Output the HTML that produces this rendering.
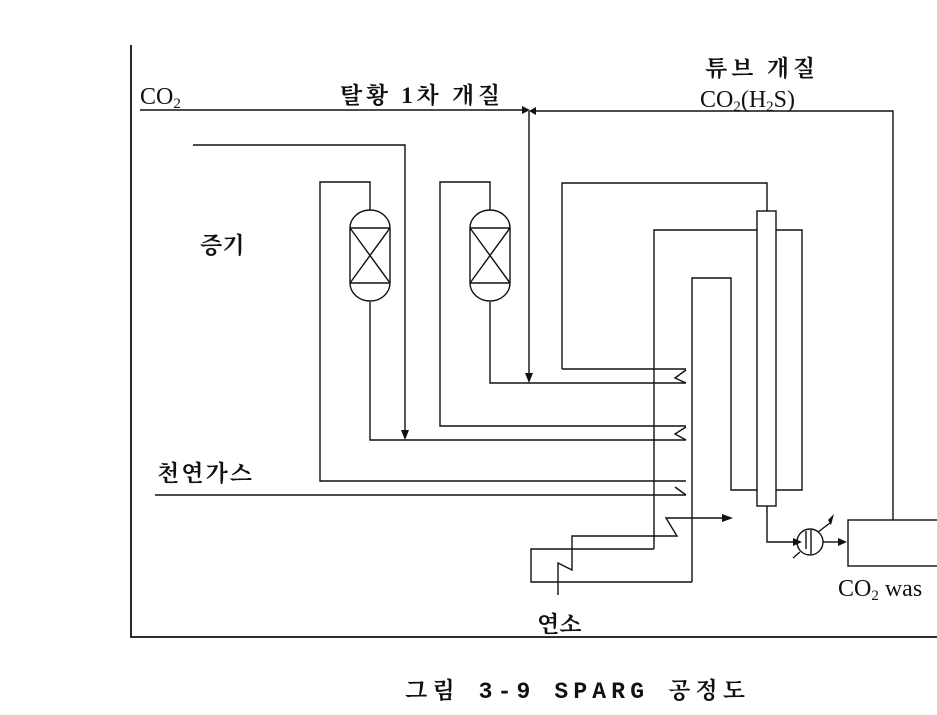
<!DOCTYPE html>
<html><head><meta charset="utf-8"><style>
html,body{margin:0;padding:0;background:#fff;}
svg{display:block;}
text{font-family:"Liberation Serif","Noto Serif CJK SC",serif;fill:#111;}
.k{font-family:"Liberation Serif","Noto Serif CJK SC","Noto Sans CJK KR",serif;font-weight:bold;}
.m{font-family:"Liberation Mono","Noto Serif CJK SC",monospace;font-weight:bold;}
</style></head><body>
<svg width="937" height="715" viewBox="0 0 937 715" xmlns="http://www.w3.org/2000/svg">
<g fill="none" stroke="#111" stroke-width="1.4">
<path d="M131 45V637H937" stroke-width="1.8"/>
<path d="M140 110H522"/>
<path d="M893 520V111H536"/>
<path d="M529 111V380"/>
<path d="M193 145H405V434"/>
<path d="M370 210V182H320V481H686"/>
<path d="M370 302V440H686"/>
<path d="M490 210V182H440V426H686"/>
<path d="M490 302V383H686"/>
<path d="M155 495H686"/>
<path d="M350 228A20 18 0 0 1 390 228V283A20 18 0 0 1 350 283Z"/>
<path d="M350 228H390M350 283H390M350 228L390 283M390 228L350 283"/>
<path d="M470 228A20 18 0 0 1 510 228V283A20 18 0 0 1 470 283Z"/>
<path d="M470 228H510M470 283H510M470 228L510 283M510 228L470 283"/>
<path d="M686 370L675 378L686 383"/>
<path d="M686 427L675 434L686 440"/>
<path d="M675 487L686 495"/>
<path d="M562 369V183H767V211"/>
<path d="M562 369H686"/>
<rect x="757" y="211" width="19" height="295"/>
<path d="M654 549V230H757M776 230H802V490H776"/>
<path d="M692 582V278H731V490H757"/>
<path d="M654 549H531V582H692"/>
<path d="M558 595V563L572 570V536H677L666 518H727"/>
<path d="M767 506V542H795"/>
<circle cx="810" cy="542" r="13"/>
<path d="M811 530V554M806 531V549"/>
<path d="M823 542H838"/>
<path d="M818 532L830 523M800 552L793 558"/>
<rect x="848" y="520" width="100" height="46"/>
</g>
<g fill="#111">
<path d="M522 106L530 110L522 114Z"/>
<path d="M536 107L529 111L536 115Z"/>
<path d="M401 430L405 440L409 430Z"/>
<path d="M525 373L529 383L533 373Z"/>
<path d="M722 514L733 518L722 522Z"/>
<path d="M793 538L802 542L793 546Z"/>
<path d="M838 538L847 542L838 546Z"/>
<path d="M828 520L834 514L831 525Z"/>
</g>
<text x="140" y="104" font-size="24">CO<tspan font-size="15" dy="4">2</tspan></text>
<text x="340" y="103" font-size="23" class="k" textLength="160">탈황 1차 개질</text>
<text x="705" y="76" font-size="23" class="k" textLength="110">튜브 개질</text>
<text x="700" y="107" font-size="24">CO<tspan font-size="15" dy="4">2</tspan><tspan dy="-4">(H</tspan><tspan font-size="15" dy="4">2</tspan><tspan dy="-4">S)</tspan></text>
<text x="200" y="253" font-size="23" class="k">증기</text>
<text x="157" y="481" font-size="23" class="k" textLength="95">천연가스</text>
<text x="537" y="632" font-size="23" class="k">연소</text>
<text x="838" y="596" font-size="24">CO<tspan font-size="15" dy="4">2</tspan><tspan dy="-4"> was</tspan></text>
<text x="405" y="698" font-size="23" class="m" textLength="340">그림 3-9  SPARG 공정도</text>
</svg>
</body></html>
